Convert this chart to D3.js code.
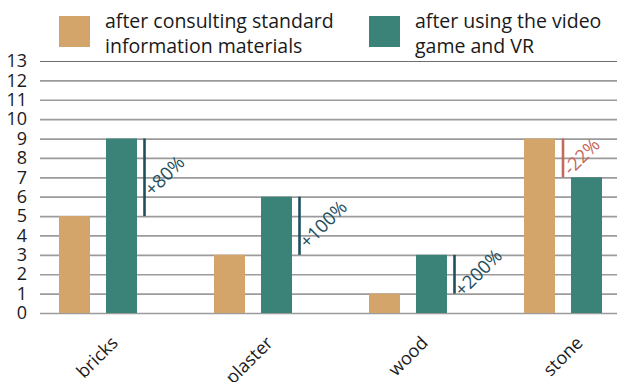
<!DOCTYPE html>
<html>
<head>
<meta charset="utf-8">
<script src="https://cdn.jsdelivr.net/npm/d3@7"></script>
<style>
  html, body { margin: 0; padding: 0; background: #fff; }
  svg { display: block; font-family: "Open Sans", sans-serif; }
</style>
</head>
<body>
<svg id="chart" width="617" height="382"></svg>
<script>
// Building materials recognised by participants
const categories = ["bricks", "plaster", "wood", "stone"];
const seriesKeys = ["standard", "videoVR"];
const seriesNames = [
  ["after consulting standard", "information materials"],
  ["after using the video", "game and VR"]
];
const standardValues = [5, 3, 1, 9];
const videoVRValues = [9, 6, 3, 7];
const changeLabels = ["+80%", "+100%", "+200%", "-22%"];
const yTicks = [0, 1, 2, 3, 4, 5, 6, 7, 8, 9, 10, 11, 12, 13];

const colors = { standard: "#d4a56a", videoVR: "#3b8279" };
const upColor = "#1f4f5e";
const downColor = "#c4695d";

const svg = d3.select("#chart");
const W = 617;

const y = d3.scaleLinear().domain([0, 13]).range([313, 61]);
const xGroup = d3.scaleBand().domain(categories).range([59, 59 + 155 * 4]).paddingInner(0).paddingOuter(0);
const xInner = d3.scaleBand().domain(seriesKeys).range([0, 78]).paddingInner(16 / 47).paddingOuter(0);

const rows = categories.map((c, i) => ({
  category: c,
  standard: standardValues[i],
  videoVR: videoVRValues[i],
  label: changeLabels[i]
}));

// gridlines and y labels
const yAxis = d3.axisLeft(y).tickValues(yTicks).tickSize(-(W - 40)).tickPadding(13);
const gy = svg.append("g").attr("transform", "translate(40,0)").call(yAxis);
gy.select(".domain").remove();
gy.selectAll(".tick line")
  .attr("stroke", d => d === 13 ? "#6e6e6e" : "#9b9b9b")
  .attr("stroke-width", d => d === 13 ? 1.2 : 1.7);
gy.selectAll(".tick text")
  .attr("fill", "#1a1a1a")
  .style("font-size", "18px")
  .style("font-family", "'Open Sans', sans-serif");

// bars
const groups = svg.append("g").selectAll("g")
  .data(rows).join("g")
  .attr("transform", d => `translate(${xGroup(d.category)},0)`);

groups.selectAll("rect")
  .data(d => seriesKeys.map(k => ({ key: k, value: d[k] })))
  .join("rect")
  .attr("x", d => xInner(d.key))
  .attr("y", d => y(d.value))
  .attr("width", xInner.bandwidth())
  .attr("height", d => y(0) - y(d.value))
  .attr("fill", d => colors[d.key]);

// change markers
const angle = -45;
groups.each(function(d) {
  const g = d3.select(this);
  const up = d.videoVR >= d.standard;
  const lx = up
    ? xInner("videoVR") + xInner.bandwidth() + 7.5
    : (xInner("standard") + xInner.bandwidth() + xInner("videoVR")) / 2;
  const col = up ? upColor : downColor;
  g.append("line")
    .attr("x1", lx).attr("x2", lx)
    .attr("y1", y(d.standard)).attr("y2", y(d.videoVR))
    .attr("stroke", col).attr("stroke-width", 2.6);
  const mid = (y(d.standard) + y(d.videoVR)) / 2;
  const t = g.append("text")
    .text(d.label)
    .attr("fill", col)
    .style("font-size", "18.5px");
  const L = t.node().getComputedTextLength();
  const rad = -angle * Math.PI / 180;
  const px = lx + 8, py = mid + L * Math.sin(rad) / 2 + 3;
  t.attr("transform", `translate(${px},${py}) rotate(${angle})`);
});

// category labels
svg.append("g").selectAll("text")
  .data(categories).join("text")
  .text(d => d)
  .attr("text-anchor", "end")
  .attr("fill", "#1a1a1a")
  .style("font-size", "18px")
  .attr("transform", d => `translate(${xGroup(d) + 39 + 21},344) rotate(-45)`);

// legend
const legend = svg.append("g").selectAll("g")
  .data(seriesKeys).join("g")
  .attr("transform", (k, i) => `translate(${xGroup(categories[i * 2])},0)`);
legend.append("rect")
  .attr("x", 0).attr("y", 16)
  .attr("width", xInner.bandwidth()).attr("height", 31)
  .attr("fill", k => colors[k]);
legend.append("text")
  .attr("fill", "#1a1a1a")
  .style("font-size", "19.5px")
  .selectAll("tspan")
  .data((k, i) => seriesNames[i]).join("tspan")
  .attr("x", 46)
  .attr("y", (s, j) => 28 + j * 25)
  .text(s => s);
</script>
</body>
</html>
